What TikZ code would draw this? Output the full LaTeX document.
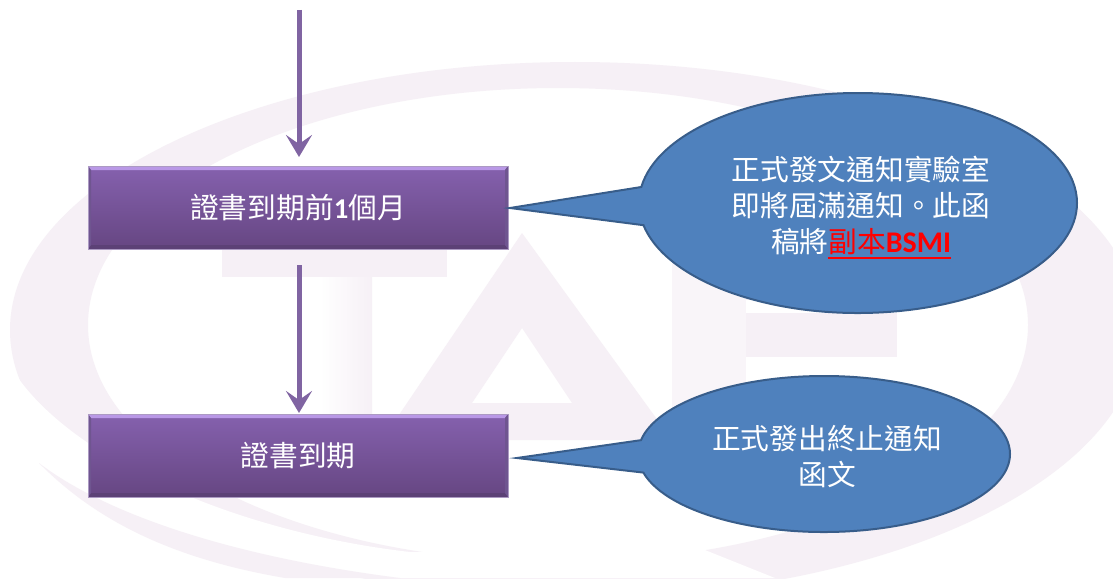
\documentclass[tikz,border=0pt]{standalone}
\usepackage{fontspec}
\usetikzlibrary{shapes.callouts,arrows.meta}
\setmainfont{Noto Sans CJK TC}
\newfontfamily\latinb{Carlito Bold}
\newcommand\redul[1]{\vtop{\hbox{#1}\kern2.5pt\hrule height 1.5pt}}
\definecolor{wm}{HTML}{F6F0F6}
\definecolor{wmfaint}{HTML}{F9F5F9}
\definecolor{calloutblue}{HTML}{4F81BD}
\definecolor{calloutedge}{HTML}{385D8A}
\definecolor{flow}{HTML}{8064A2}
\definecolor{boxtop}{HTML}{8561AE}
\definecolor{boxbottom}{HTML}{664682}
\definecolor{bevellight}{HTML}{B998E6}
\definecolor{beveldark}{HTML}{5C4176}
\definecolor{bevelside}{HTML}{6F5590}
\tikzset{
  x=1pt,y=-1pt,
  cnText/.style={font=\fontsize{28.7}{36}\selectfont,text=white},
  boxnode/.style={cnText,rectangle,minimum width=420pt,minimum height=83pt,inner sep=0pt,
    draw=flow!65!white,line width=0.7pt,
    top color=boxtop,bottom color=boxbottom,
    path picture={
      \fill[bevellight] (path picture bounding box.north west) -- (path picture bounding box.north east) -- ([xshift=-3pt,yshift=-4pt]path picture bounding box.north east) -- ([xshift=3pt,yshift=-4pt]path picture bounding box.north west) -- cycle;
      \fill[beveldark] (path picture bounding box.south west) -- (path picture bounding box.south east) -- ([xshift=-3pt,yshift=4pt]path picture bounding box.south east) -- ([xshift=3pt,yshift=4pt]path picture bounding box.south west) -- cycle;
      \fill[bevelside] (path picture bounding box.north west) -- ([xshift=3pt,yshift=-4pt]path picture bounding box.north west) -- ([xshift=3pt,yshift=4pt]path picture bounding box.south west) -- (path picture bounding box.south west) -- cycle;
      \fill[bevelside] (path picture bounding box.north east) -- ([xshift=-3pt,yshift=-4pt]path picture bounding box.north east) -- ([xshift=-3pt,yshift=4pt]path picture bounding box.south east) -- (path picture bounding box.south east) -- cycle;
    }},
  bubble/.style={cnText,ellipse callout,draw=calloutedge,line width=2pt,fill=calloutblue,inner sep=0pt,align=center},
  flowarrow/.style={draw=flow,line width=5pt,-{Stealth[length=22pt,width=26pt,inset=9pt]}}
}
\begin{document}
\begin{tikzpicture}
\useasboundingbox (0,0) rectangle (1113,578);
\fill[white] (0,0) rectangle (1113,578);
% watermark ring
\fill[wm,even odd rule] (575,330) ellipse [x radius=565,y radius=268] (558,325) ellipse [x radius=470,y radius=237];
\fill[white] (0,360) -- (11,367) .. controls (60,450) and (220,530) .. (410,552) -- (558,552) -- (700,548) -- (775,578) -- (0,578) -- cycle;
\fill[wm] (39,463) .. controls (100,510) and (220,555) .. (400,578) -- (285,578) .. controls (180,560) and (100,525) .. (39,463) -- cycle;
% watermark letters
\fill[wm] (222,250) rectangle (447,277);
\shade[left color=white,right color=wm] (320,277) rectangle (372,497);
\fill[wm,even odd rule] (522,233) -- (672,440) -- (382,440) -- cycle (522,328) -- (572,403) -- (472,403) -- cycle;
\fill[wmfaint] (672,245) rectangle (746,497);
\fill[wm] (746,245) rectangle (930,300);
\fill[wm] (746,313) rectangle (897,357);
\node[boxnode] (b1) at (298,207.5) {證書到期前{\latinb 1}個月};
\node[boxnode] (b2) at (298,455.5) {證書到期};
\coordinate (start) at (299,10);
\coordinate (end1) at (299,157);
\coordinate (begin2) at (299,265);
\coordinate (end2) at (299,413);
\coordinate (t1) at (510,208);
\coordinate (t2) at (517,458);
\draw[flowarrow] (start) -- (end1);
\draw[flowarrow] (begin2) -- (end2);
\node[bubble,minimum width=438pt,minimum height=220pt,callout pointer arc=20,callout absolute pointer={(t1)}] (c1) at (858,203)
  {\rule{0pt}{33pt}\hspace*{6pt}正式發文通知實驗室\\\hspace*{6pt}即將屆滿通知。此函\\\hspace*{6pt}稿將{\color{red}\redul{副本{\latinb\fontsize{30}{36}\selectfont BSMI}}}};
\node[bubble,minimum width=372pt,minimum height=156pt,callout pointer arc=24,callout absolute pointer={(t2)}] (c2) at (824,454)
  {\rule{0pt}{29pt}\hspace*{6pt}正式發出終止通知\\\hspace*{6pt}函文};
\end{tikzpicture}
\end{document}
